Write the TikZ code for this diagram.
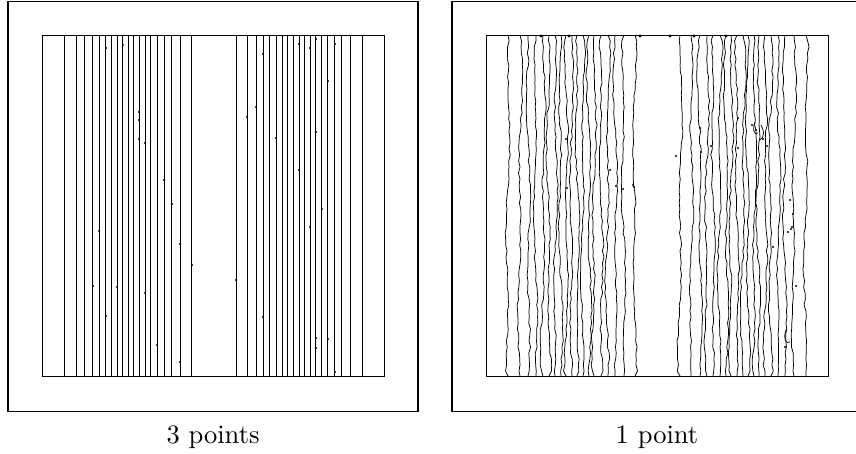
\documentclass[tikz,border=0pt]{standalone}
\usepackage{tikz}

\begin{document}
\begin{tikzpicture}[x=0.377pt, y=-0.377pt,
  frame/.style={draw, line width=0.45pt},
  trace/.style={line width=0.28pt},
  speck/.style={fill=black, inner sep=0pt, minimum size=0.8pt, circle}]

\useasboundingbox (0,0) rectangle (856,454);

% Outer frames
\draw[frame] (8,1.5) rectangle (418,411.5);
\draw[frame] (452,1.5) rectangle (859,411.5);

% Inner boxes
\draw[trace] (42,35) rectangle (384,376);
\draw[trace] (486,35) rectangle (828,376);

% Left panel: straight contour lines (3 points)
\foreach \x in {64,76,84,92,99,105,111,117,122,128,133,139,145,150,157,164,171,180,191,
                236,247,256,263,269,276,282,287,293,299,304,310,315,321,327,334,341,350,362}
  \draw[trace] (\x,35) -- (\x,376);

% Left panel: stray points
\foreach \px/\py in {106/48,123/45,139/112,139/120,139/139,145/143,164/180,172/204,
                     99/231,180/244,192/265,93/286,117/287,145/293,106/316,157/345,
                     180/362,263/54,299/44,310/48,316/39,328/81,335/44,256/107,
                     247/117,276/138,316/132,299/170,322/209,310/227,236/280,
                     263/317,316/338,316/348,328/339,335/372}
  \node[speck] at (\px,\py) {};

% Right panel: noisy contour lines (1 point)
\pgfmathsetseed{4217}
\foreach \x in {64,76,84,92,99,105,111,117,122,128,133,139,145,150,157,164,171,180,191,
                236,247,256,263,269,276,282,287,293,299,304,310,315,321,327,334,341,350,362}
  \draw[trace, line join=round] ({\x+444},35)
    \foreach \yy in {41,47,...,371}
      { -- ({\x+444+0.9*rand+1.3*sin(\yy*2.3+\x*13)+1.2*sin(\yy*0.7+\x*29)},\yy) }
    -- ({\x+444},376);

% Right panel: blobs along the top edge
\foreach \px in {541,569,640,670,694,726}
  \node[speck, minimum size=1.3pt] at (\px,36) {};

% Right panel: stray bits
\foreach \px/\py in {566/139,567/188,634/187,633/185,701/152,711/146,738/148,752/125,
                     767/146,756/130,763/139,773/247,790/200,791/229,788/232,792/227,
                     785/347,796/286,793/214,738/118,700/128,676/156,623/189,616/186,
                     610/170}
  \node[speck] at (\px,\py) {};
\draw[trace] (755,122) .. controls (752,128) and (754,136) .. (758,133);
\draw[trace] (761,125) .. controls (764,130) and (765,137) .. (760,140);
\draw[trace] (786,330) .. controls (783,338) and (786,345) .. (790,342);

% Labels
\node[anchor=base] (lbl3) at (213,443) {3 points};
\node[anchor=base] (lbl1) at (657,443) {1 point};

\end{tikzpicture}
\end{document}
